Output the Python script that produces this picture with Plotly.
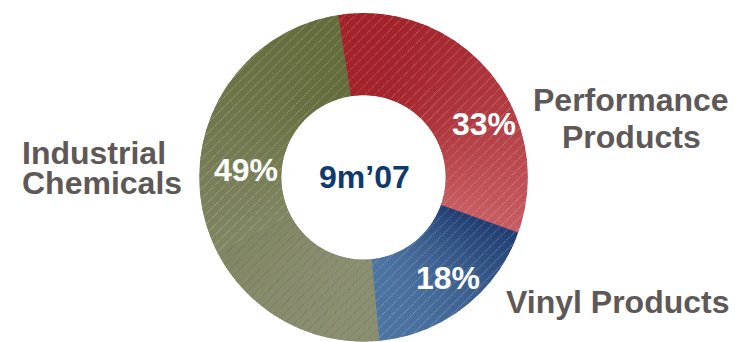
import plotly.graph_objects as go

# Segment data (share of 9m'07 total, %)
segments = ["Performance Products", "Vinyl Products", "Industrial Chemicals"]
shares = [33, 18, 49]
# each ring segment fades from a darker top to a lighter bottom
colors_dark = ["#A3222A", "#213E72", "#646C3C"]
colors_light = ["#C65C61", "#4C74A2", "#8B8F71"]
center_label = "9m\u201907"
start_angle = -9  # degrees clockwise from 12 o'clock

W, H = 736, 342
FONT = "Liberation Sans, Arial, sans-serif"
LABEL_GREY = "#5E5857"

# donut geometry in pixels (center x, center y from bottom, radius)
cx, cy, r = 363.5, 164.5, 164.5


def hex_to_rgb(h):
    h = h.lstrip("#")
    return tuple(int(h[i:i + 2], 16) for i in (0, 2, 4))


def mix(c1, c2, t):
    a, b = hex_to_rgb(c1), hex_to_rgb(c2)
    return "rgb(%d,%d,%d)" % tuple(round(a[i] + (b[i] - a[i]) * t) for i in range(3))


import math

fig = go.Figure()

# ring segments: each share is split into thin wedges so the fill can shade vertically
total = sum(shares)
acc = 0.0
for name, v, cd, cl in zip(segments, shares, colors_dark, colors_light):
    a0 = start_angle + 360.0 * acc / total
    span = 360.0 * v / total
    acc += v
    n = max(6, int(round(span / 2.0)))
    step = span / n
    thetas = [a0 + step * (k + 0.5) for k in range(n)]
    heights = [math.cos(math.radians(t)) for t in thetas]
    top, bottom = max(heights), min(heights)
    cols = [mix(cd, cl, (top - h) / (top - bottom)) for h in heights]
    fig.add_trace(
        go.Barpolar(
            r=[1] * n,
            theta=thetas,
            width=[step] * n,
            name=name,
            marker=dict(
                color=cols,
                line=dict(color=cols, width=0.8),
                pattern=dict(shape="/", fgcolor="white", fgopacity=0.28, size=7, solidity=0.14),
            ),
            hovertemplate=f"{name}: {v}%<extra></extra>",
            showlegend=False,
        )
    )


def px_ann(text, x, y, color, size=32, xanchor="center"):
    fig.add_annotation(
        x=x / W, y=1 - y / H, xref="paper", yref="paper",
        text=f"<b>{text}</b>", showarrow=False,
        xanchor=xanchor, yanchor="middle",
        font=dict(family=FONT, size=size, color=color),
    )


# percentage labels on the ring
pct_pos = [(484, 124), (448, 278), (246, 170)]
for v, (x, y) in zip(shares, pct_pos):
    px_ann(f"{v}%", x, y, "white")

# year label in the hole
px_ann(center_label, 364, 177, "#0E3A6C")

# segment names
px_ann("Performance", 631, 100, LABEL_GREY)
px_ann("Products", 631, 137, LABEL_GREY)
px_ann("Vinyl Products", 617, 302, LABEL_GREY)
px_ann("Industrial", 20, 153, LABEL_GREY, xanchor="left")
px_ann("Chemicals", 20, 183, LABEL_GREY, xanchor="left")

fig.update_layout(
    width=W, height=H,
    margin=dict(l=0, r=0, t=0, b=0),
    paper_bgcolor="white", plot_bgcolor="white",
    barmode="overlay",
    polar=dict(
        domain=dict(x=[(cx - r) / W, (cx + r) / W], y=[0.001, (cy + r) / H]),
        hole=0.5,
        bgcolor="white",
        radialaxis=dict(range=[0, 1], visible=False, showgrid=False),
        angularaxis=dict(
            rotation=90, direction="clockwise", visible=False,
            showgrid=False, showline=False, ticks="",
        ),
    ),
)

fig.write_html("out.html")
